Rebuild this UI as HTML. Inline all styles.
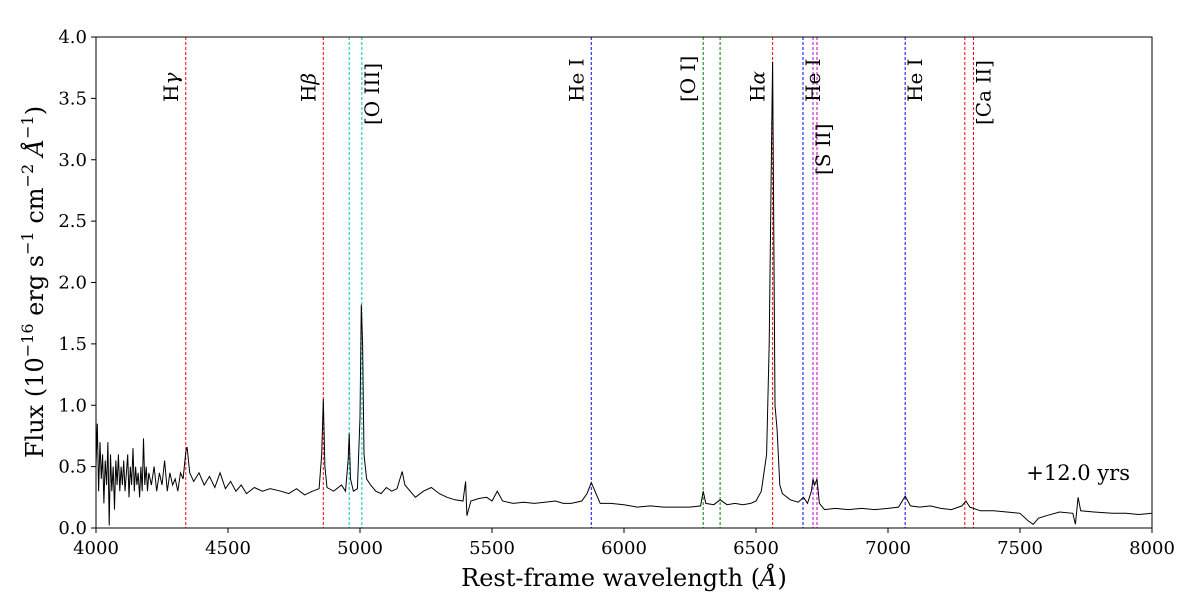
<!DOCTYPE html>
<html><head><meta charset="utf-8"><style>
body{margin:0;background:#fff;width:1200px;height:600px;overflow:hidden}
svg text{font-family:"DejaVu Serif","Liberation Serif",serif;fill:#000}
</style></head><body>
<svg id="chart" width="1200" height="600" xmlns="http://www.w3.org/2000/svg">
<g id="lines"></g>
<g id="spec"></g>
<rect x="96" y="37" width="1056" height="491" fill="none" stroke="#000" stroke-width="1"/>
<g id="axes"></g>
<text x="624" y="586" font-size="24" text-anchor="middle">Rest-frame wavelength (<tspan font-style="italic">Å</tspan>)</text>
<text transform="translate(43,282) rotate(-90)" font-size="24" text-anchor="middle">Flux (10<tspan font-size="16" dy="-10">−16</tspan><tspan dy="10"> erg s</tspan><tspan font-size="16" dy="-10">−1</tspan><tspan dy="10"> cm</tspan><tspan font-size="16" dy="-10">−2</tspan><tspan dy="10"> </tspan><tspan font-style="italic">Å</tspan><tspan font-size="16" dy="-10">−1</tspan><tspan dy="10">)</tspan></text>
<text x="1130" y="480" font-size="21" text-anchor="end">+12.0 yrs</text>
</svg>
<script>
const wave=[4000,4005,4010,4015,4020,4025,4030,4035,4040,4045,4050,4055,4060,4065,4070,4075,4080,4085,4090,4095,4100,4105,4110,4115,4120,4125,4130,4135,4140,4145,4150,4155,4160,4165,4170,4175,4180,4185,4190,4195,4200,4210,4220,4230,4240,4250,4260,4270,4280,4290,4300,4310,4320,4330,4340,4345,4355,4370,4390,4410,4430,4450,4470,4490,4510,4530,4550,4570,4600,4630,4660,4700,4730,4760,4790,4820,4845,4855,4861,4867,4875,4900,4930,4945,4955,4959,4964,4975,4990,5000,5005,5010,5015,5025,5040,5060,5080,5100,5120,5140,5160,5170,5190,5210,5240,5270,5300,5330,5360,5390,5400,5405,5420,5450,5480,5500,5520,5540,5580,5620,5660,5700,5740,5770,5800,5840,5860,5876,5890,5910,5950,6000,6050,6100,6150,6200,6250,6290,6300,6310,6340,6364,6390,6420,6450,6480,6500,6520,6540,6550,6560,6563,6567,6572,6580,6590,6600,6630,6660,6680,6695,6710,6716,6722,6731,6740,6760,6800,6850,6900,6950,7000,7040,7065,7085,7120,7160,7200,7240,7280,7295,7310,7350,7400,7450,7500,7530,7550,7570,7600,7650,7700,7710,7720,7730,7780,7850,7900,7950,8000];
const flux=[.5,.85,.3,.7,.4,.6,.2,.55,.35,.7,.02,.6,.3,.5,.15,.55,.35,.6,.3,.5,.35,.55,.3,.45,.6,.25,.5,.35,.65,.3,.5,.35,.45,.25,.5,.3,.73,.35,.5,.3,.45,.35,.5,.3,.45,.35,.55,.3,.45,.35,.4,.3,.45,.4,.62,.66,.45,.38,.45,.35,.42,.33,.45,.32,.38,.3,.35,.28,.33,.3,.32,.3,.28,.32,.27,.3,.32,.6,1.05,.5,.33,.3,.35,.3,.55,.77,.4,.3,.32,.9,1.82,1.5,.6,.4,.35,.3,.28,.33,.3,.32,.46,.35,.3,.25,.3,.33,.28,.25,.23,.22,.38,.1,.22,.24,.25,.22,.3,.22,.2,.21,.2,.21,.22,.2,.2,.22,.28,.37,.3,.2,.2,.19,.17,.18,.17,.17,.17,.18,.3,.2,.19,.23,.19,.2,.19,.2,.22,.3,.6,1.5,3.3,3.8,2.5,1.0,.8,.35,.28,.23,.21,.25,.2,.3,.4,.35,.4,.2,.15,.16,.15,.16,.15,.16,.17,.26,.18,.17,.18,.16,.15,.18,.22,.17,.14,.14,.13,.12,.06,.03,.08,.1,.13,.12,.03,.25,.14,.13,.12,.12,.11,.12];
const lineWaves=[4340,4861,4959,5007,5876,6300,6364,6563,6678,6716,6731,7065,7291,7324];
const lineColors=["red","red","#00bfbf","#00bfbf","blue","green","green","red","blue","#bf00bf","#bf00bf","blue","red","red"];
const labelWaves=[4340,4861,5007,5876,6300,6563,6678,6716,7065,7324];
const labelTexts=["H|γ","H|β","[O III]","He I","[O I]","H|α","He I","[S II]","He I","[Ca II]"];
const labelSide=[-1,-1,1,-1,-1,-1,1,1,1,1];
const labelBottom=[102,102,125,102,102,102,102,175,102,125];
const xTicks=[4000,4500,5000,5500,6000,6500,7000,7500,8000];
const yTicks=[0,0.5,1,1.5,2,2.5,3,3.5,4];
const NS="http://www.w3.org/2000/svg";
const X=w=>96+(w-4000)/4000*1056;
const Y=f=>528-f/4*491;
function mk(t,a,p){const e=document.createElementNS(NS,t);for(const k in a)e.setAttribute(k,a[k]);p.appendChild(e);return e;}
const L=document.getElementById('lines');
lineWaves.forEach((w,i)=>{const l=mk('line',{x1:X(w),x2:X(w),y1:37,y2:528,stroke:lineColors[i],'stroke-width':1,'stroke-dasharray':'3,2'},L);

});
labelWaves.forEach((w,i)=>{const x=X(w)+(labelSide[i]<0?-8:17);const t=mk('text',{transform:`translate(${x},${labelBottom[i]}) rotate(-90)`,'font-size':20,'text-anchor':'start'},L);
const parts=labelTexts[i].split('|');
if(parts.length>1){t.textContent=parts[0];const s=mk('tspan',{'font-style':'italic'},t);s.textContent=parts[1];}else t.textContent=parts[0];

});
const S=document.getElementById('spec');
const p=mk('path',{d:wave.map((w,i)=>(i?'L':'M')+X(w).toFixed(1)+','+Y(flux[i]).toFixed(1)).join(''),fill:'none',stroke:'#000','stroke-width':1},S);


const A=document.getElementById('axes');
xTicks.forEach(v=>{mk('line',{x1:X(v),x2:X(v),y1:528,y2:533,stroke:'#000'},A);const t=mk('text',{x:X(v),y:554,'font-size':18,'text-anchor':'middle'},A);t.textContent=v;

});
yTicks.forEach(v=>{mk('line',{x1:91,x2:96,y1:Y(v),y2:Y(v),stroke:'#000'},A);const t=mk('text',{x:87,y:Y(v)+6,'font-size':18,'text-anchor':'end'},A);t.textContent=v.toFixed(1);

});
</script>
</body></html>
